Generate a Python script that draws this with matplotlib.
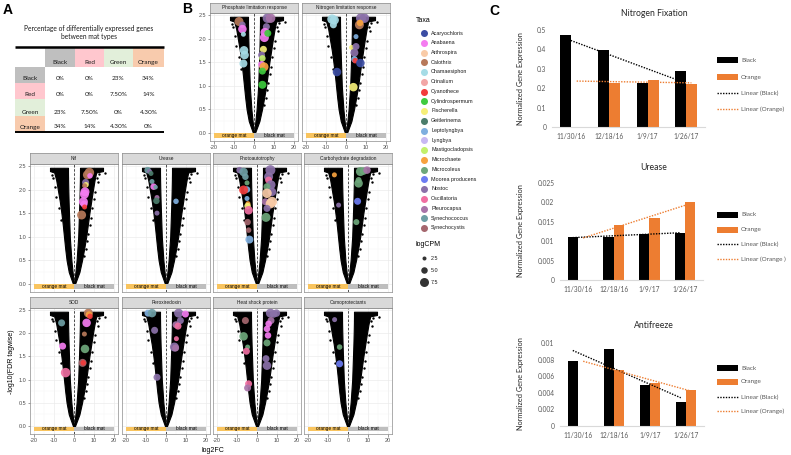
import numpy as np
import matplotlib
matplotlib.use("Agg")
import matplotlib.pyplot as plt
from matplotlib.patches import Rectangle

# ---------------- data ----------------
TAXA = ["Acaryochloris", "Anabaena", "Arthrospira", "Calothrix", "Chamaesiphon",
        "Crinalium", "Cyanothece", "Cylindrospermum", "Fischerella", "Geitlerinema",
        "Leptolyngbya", "Lyngbya", "Mastigocladopsis", "Microchaete", "Microcoleus",
        "Moorea producens", "Nostoc", "Oscillatoria", "Pleurocapsa", "Synechococcus",
        "Synechocystis"]
TAXA_COLORS = ["#3B4DA3", "#F47CF0", "#F9CBA7", "#B8795A", "#A6DCE6",
               "#F2A6A6", "#F23B3B", "#3FCB3F", "#F6EF78", "#4B7D6B",
               "#7FAFDF", "#C8B8F2", "#C3F06C", "#F7A23F", "#6DA77B",
               "#6C7CF2", "#8B71A9", "#F06FA2", "#A874A9", "#6E9FA5",
               "#A5676E"]
SIZE_BREAKS = [2.5, 5.0, 7.5]

MAT_TYPES = ["Black", "Red", "Green", "Orange"]
MAT_COLORS = ["#BFBFBF", "#FFC7CE", "#E2EFDA", "#F8CBAD"]
PCT_BLACK = ["0%", "0%", "23%", "34%"]
PCT_RED = ["0%", "0%", "7.50%", "14%"]
PCT_GREEN = ["23%", "7.50%", "0%", "4.30%"]
PCT_ORANGE = ["34%", "14%", "4.30%", "0%"]

DATES = ["11/30/16", "12/18/16", "1/9/17", "1/26/17"]
NIF_BLACK = [0.475, 0.397, 0.225, 0.289]
NIF_ORANGE = [np.nan, 0.228, 0.242, 0.222]
URE_BLACK = [0.0110, 0.0112, 0.0118, 0.0122]
URE_ORANGE = [np.nan, 0.0142, 0.0159, 0.0201]
ANT_BLACK = [0.0078, 0.0093, 0.0050, 0.0029]
ANT_ORANGE = [np.nan, 0.0067, 0.0052, 0.0043]

# volcano envelope of the black (all genes) point cloud
ENV_Y = [0.0, 0.25, 0.5, 0.75, 1.0, 1.25, 1.5, 1.75, 2.0, 2.2, 2.36, 2.39, 2.46]
LEFT_OUTER = [-0.5, -2.6, -3.7, -4.4, -5.0, -5.6, -6.3, -7.1, -8.1, -8.9, -9.9, -12.0, -12.0]
LEFT_INNER = [0.0, -0.7, -1.3, -1.7, -2.1, -2.3, -2.5, -2.7, -2.85, -2.95, -3.0, -3.0, -3.0]
RIGHT_INNER = [0.0, 0.7, 1.3, 1.7, 2.1, 2.3, 2.5, 2.7, 2.85, 2.95, 3.0, 3.0, 3.0]
RIGHT_OUTER = [0.5, 2.7, 4.0, 5.1, 6.1, 6.9, 7.7, 8.6, 9.5, 10.3, 11.1, 14.5, 14.5]
OUTLIER_FC = [11.5, 12.0, 10.5, 9.8, 9.2, 8.5, 7.8, 7.2, 6.5, 6.0, 5.2,
              -10.5, -9.5, -8.8, -7.5, -6.5, 15.5, 12.5, -11.0]
OUTLIER_FDR = [2.25, 2.15, 1.95, 1.80, 1.60, 1.40, 1.25, 1.05, 0.90, 0.75, 0.60,
               2.25, 2.05, 1.85, 1.60, 1.35, 2.35, 2.32, 2.30]

PHOS_PTS = [("Calothrix", -7.5, 2.36, 7.5), ("Nostoc", -5.8, 2.29, 5.0),
            ("Anabaena", -5.8, 2.20, 7.0), ("Chamaesiphon", -5.3, 2.09, 3.5),
            ("Chamaesiphon", -5.0, 1.75, 7.0), ("Chamaesiphon", -4.7, 1.65, 7.0),
            ("Chamaesiphon", -5.3, 1.47, 6.5), ("Nostoc", 6.7, 2.43, 8.0),
            ("Pleurocapsa", 8.3, 2.43, 8.0), ("Nostoc", 6.2, 2.25, 5.5),
            ("Anabaena", 5.5, 2.13, 7.5), ("Anabaena", 5.2, 2.02, 7.5),
            ("Cylindrospermum", 6.9, 2.11, 5.5), ("Fischerella", 4.7, 1.77, 5.5),
            ("Nostoc", 3.8, 1.65, 5.5), ("Mastigocladopsis", 4.2, 1.58, 5.0),
            ("Anabaena", 3.8, 1.45, 5.5), ("Microchaete", 5.0, 1.40, 7.5),
            ("Cylindrospermum", 4.2, 1.31, 5.5), ("Cylindrospermum", 4.2, 1.02, 6.5)]
NITRO_PTS = [("Chamaesiphon", -7.0, 2.41, 8.0), ("Chamaesiphon", -5.8, 2.39, 7.5),
             ("Chamaesiphon", -6.3, 2.29, 5.5), ("Acaryochloris", -4.5, 1.29, 7.0),
             ("Nostoc", 7.5, 2.43, 8.5), ("Nostoc", 9.2, 2.43, 8.0),
             ("Calothrix", 6.7, 2.29, 7.5), ("Microchaete", 7.0, 2.33, 5.0),
             ("Leptolyngbya", 5.0, 2.04, 3.5), ("Fischerella", 2.8, 1.81, 3.5),
             ("Nostoc", 5.0, 1.83, 5.5), ("Nostoc", 4.2, 1.70, 6.5),
             ("Leptolyngbya", 4.2, 1.56, 5.0), ("Cyanothece", 4.6, 1.53, 4.0),
             ("Acaryochloris", 7.2, 1.48, 7.0), ("Fischerella", 3.7, 0.97, 7.0)]
NIF_PTS = [("Calothrix", 7.7, 2.36, 8.0), ("Calothrix", 6.7, 2.31, 7.5),
           ("Anabaena", 8.0, 2.29, 4.0), ("Nostoc", 5.8, 2.15, 5.5),
           ("Fischerella", 6.0, 2.10, 4.0), ("Calothrix", 5.3, 2.08, 3.5),
           ("Anabaena", 5.5, 1.95, 7.5), ("Anabaena", 5.2, 1.90, 7.5),
           ("Anabaena", 4.7, 1.74, 7.5), ("Anabaena", 5.0, 1.69, 5.5),
           ("Cyanothece", 5.3, 1.63, 3.5), ("Calothrix", 3.8, 1.46, 7.5)]
URE_PTS = [("Synechococcus", -9.2, 2.41, 5.0), ("Nostoc", -8.2, 2.38, 3.5),
           ("Geitlerinema", -7.5, 2.34, 3.5), ("Synechococcus", -7.0, 2.17, 3.5),
           ("Anabaena", -6.2, 2.06, 5.0), ("Synechococcus", -5.2, 2.05, 3.0),
           ("Pleurocapsa", -4.5, 1.83, 3.5), ("Geitlerinema", -4.8, 1.76, 5.0),
           ("Nostoc", -4.5, 1.50, 3.5), ("Leptolyngbya", 5.0, 1.75, 4.0)]
PHOTO_PTS = [("Nostoc", -8.7, 2.41, 5.0), ("Synechococcus", -6.7, 2.37, 7.0),
             ("Synechococcus", -5.8, 2.27, 5.0), ("Microcoleus", -5.0, 2.14, 3.5),
             ("Leptolyngbya", -5.0, 2.00, 5.0), ("Cyanothece", -6.7, 1.99, 7.5),
             ("Leptolyngbya", -5.0, 1.81, 3.5), ("Microchaete", -4.5, 1.70, 3.5),
             ("Fischerella", -4.7, 1.65, 5.0), ("Oscillatoria", -4.2, 1.56, 7.0),
             ("Synechocystis", -4.7, 1.31, 5.0), ("Synechocystis", -4.2, 1.14, 4.0),
             ("Leptolyngbya", -3.8, 0.94, 6.5), ("Nostoc", 6.7, 2.41, 8.5),
             ("Nostoc", 5.8, 2.27, 7.5), ("Oscillatoria", 5.8, 2.20, 5.5),
             ("Nostoc", 7.0, 2.10, 7.5), ("Microcoleus", 5.0, 2.06, 5.5),
             ("Nostoc", 7.5, 1.95, 7.0), ("Arthrospira", 5.0, 1.92, 8.0),
             ("Pleurocapsa", 4.2, 1.74, 5.5), ("Arthrospira", 7.5, 1.74, 8.5),
             ("Arthrospira", 6.7, 1.70, 8.0), ("Nostoc", 5.0, 1.60, 5.5),
             ("Microcoleus", 4.5, 1.41, 7.5)]
CARB_PTS = [("Microchaete", -6.8, 2.31, 3.5), ("Nostoc", -4.7, 1.67, 3.5),
            ("Microcoleus", 6.2, 2.38, 7.5), ("Microcoleus", 7.8, 2.39, 6.0),
            ("Pleurocapsa", 9.5, 2.41, 6.0), ("Microcoleus", 5.3, 2.20, 4.5),
            ("Microcoleus", 5.3, 2.13, 7.0), ("Moorea producens", 4.8, 1.75, 5.5),
            ("Microcoleus", 4.2, 1.31, 4.5)]
SOD_PTS = [("Synechococcus", -6.2, 2.22, 5.5), ("Anabaena", -5.7, 1.72, 5.5),
           ("Oscillatoria", -4.2, 1.15, 8.0), ("Calothrix", 7.2, 2.43, 7.5),
           ("Microchaete", 7.5, 2.40, 5.0), ("Cyanothece", 8.0, 2.36, 4.0),
           ("Anabaena", 6.3, 2.22, 7.0), ("Calothrix", 5.2, 1.98, 3.5),
           ("Microcoleus", 5.5, 1.66, 7.0), ("Synechocystis", 4.3, 1.36, 6.5),
           ("Cyanothece", 4.6, 1.36, 4.0)]
PEROX_PTS = [("Leptolyngbya", -9.0, 2.43, 5.5), ("Synechococcus", -7.0, 2.43, 7.0),
             ("Nostoc", -5.7, 2.06, 5.5), ("Nostoc", -4.5, 1.05, 5.5),
             ("Nostoc", 6.3, 2.43, 7.5), ("Anabaena", 9.7, 2.41, 5.5),
             ("Nostoc", 7.2, 2.27, 5.5), ("Pleurocapsa", 5.0, 2.18, 5.5),
             ("Oscillatoria", 6.0, 2.15, 5.5), ("Oscillatoria", 5.2, 1.88, 3.5),
             ("Nostoc", 4.2, 1.70, 7.5), ("Pleurocapsa", 4.8, 1.68, 5.5)]
HEAT_PTS = [("Synechocystis", -5.8, 2.27, 5.5), ("Microcoleus", -6.7, 1.93, 7.0),
            ("Microcoleus", -4.7, 1.70, 3.5), ("Oscillatoria", -5.3, 1.61, 5.5),
            ("Oscillatoria", -4.2, 0.91, 5.5), ("Pleurocapsa", -4.7, 0.82, 5.5),
            ("Nostoc", 6.7, 2.43, 7.5), ("Nostoc", 8.3, 2.41, 6.0),
            ("Nostoc", 9.7, 2.43, 6.0), ("Pleurocapsa", 7.0, 2.27, 5.5),
            ("Anabaena", 5.8, 2.20, 5.0), ("Anabaena", 5.0, 2.09, 5.0),
            ("Anabaena", 5.5, 1.95, 5.0), ("Microcoleus", 5.0, 1.79, 5.5),
            ("Nostoc", 4.5, 1.45, 5.5), ("Nostoc", 5.0, 1.30, 7.0)]
OSMO_PTS = [("Nostoc", -6.7, 2.29, 3.5), ("Microcoleus", -4.2, 1.70, 4.0),
            ("Moorea producens", -4.2, 1.34, 5.5)]

# ---------------- figure ----------------
W, H = 791, 455
fig = plt.figure(figsize=(W / 100, H / 100), dpi=100)
GG = "Liberation Sans"
XL = "Lato"
EXCEL_ORANGE = "#ED7D31"
EXCEL_TXT = "#595959"


def px_axes(x0, y0, x1, y1):
    return fig.add_axes([x0 / W, 1 - y1 / H, (x1 - x0) / W, (y1 - y0) / H])


def diam(cpm):
    return 1.5 + cpm


taxa_color = dict(zip(TAXA, TAXA_COLORS))


def volcano(x0, y0, x1, y1, sy0, title, pts, show_x, show_y):
    ax = px_axes(x0, y0, x1, y1)
    ax.set_xlim(-22, 22)
    ax.set_ylim(-0.17, 2.54)
    ax.set_xticks([-20, -10, 0, 10, 20])
    ax.set_xticks([-15, -5, 5, 15], minor=True)
    ax.set_yticks([0, 0.5, 1.0, 1.5, 2.0, 2.5])
    ax.set_yticks([0.25, 0.75, 1.25, 1.75, 2.25], minor=True)
    ax.grid(True, which="major", color="#EBEBEB", lw=0.5)
    ax.grid(True, which="minor", color="#F4F4F4", lw=0.35)
    ax.set_axisbelow(True)
    for s in ax.spines.values():
        s.set_color("#8C8C8C")
        s.set_linewidth(0.5)
    ax.tick_params(which="minor", length=0)
    ax.tick_params(which="major", length=1.8, width=0.4, color="#4D4D4D",
                   labelsize=4, labelcolor="#4D4D4D", pad=1)
    if show_x:
        ax.set_xticklabels(["-20", "-10", "0", "10", "20"], fontfamily=GG)
    else:
        ax.tick_params(axis="x", length=0, labelbottom=False)
    if show_y:
        ax.set_yticklabels(["0.0", "0.5", "1.0", "1.5", "2.0", "2.5"], fontfamily=GG)
    else:
        ax.tick_params(axis="y", length=0, labelleft=False)
    ax.axvline(0, color="#333333", lw=0.6, ls=(0, (3, 2)), zorder=1)
    ax.fill_betweenx(ENV_Y, LEFT_OUTER, LEFT_INNER, color="black", lw=0.8,
                     edgecolor="black", zorder=2)
    ax.fill_betweenx(ENV_Y, RIGHT_INNER, RIGHT_OUTER, color="black", lw=0.8,
                     edgecolor="black", zorder=2)
    ax.scatter(OUTLIER_FC, OUTLIER_FDR, s=3, color="black", lw=0, zorder=2)
    ax.add_patch(Rectangle((-20, -0.11), 20, 0.1, color="#F9C45E", lw=0, zorder=3))
    ax.add_patch(Rectangle((0, -0.11), 20, 0.1, color="#BEBEBE", lw=0, zorder=3))
    ax.text(-10, -0.06, "orange mat", ha="center", va="center", fontsize=3.4,
            fontfamily=GG, zorder=4)
    ax.text(10, -0.06, "black mat", ha="center", va="center", fontsize=3.4,
            fontfamily=GG, zorder=4)
    tx = [p[1] for p in pts]
    ty = [p[2] for p in pts]
    tc = [taxa_color[p[0]] for p in pts]
    ts = [(diam(p[3]) * 0.72) ** 2 for p in pts]
    ax.scatter(tx, ty, s=ts, c=tc, lw=0, alpha=0.92, zorder=5)
    sax = px_axes(x0, sy0, x1, y0)
    sax.set_facecolor("#D9D9D9")
    sax.set_xticks([])
    sax.set_yticks([])
    for s in sax.spines.values():
        s.set_color("#8C8C8C")
        s.set_linewidth(0.5)
    sax.text(0.5, 0.5, title, ha="center", va="center", fontsize=3.4,
             fontfamily=GG, color="#1A1A1A", transform=sax.transAxes)
    return ax


# panel B top row
volcano(210, 13, 298, 141, 3, "Phosphate limitation response", PHOS_PTS, True, True)
volcano(302, 13, 390, 141, 3, "Nitrogen limitation response", NITRO_PTS, True, False)

# panel B grid
COLS = [30, 122, 213, 304]
row1 = [("Nif", NIF_PTS), ("Urease", URE_PTS), ("Photoautotrophy", PHOTO_PTS),
        ("Carbohydrate degradation", CARB_PTS)]
row2 = [("SOD", SOD_PTS), ("Peroxiredoxin", PEROX_PTS), ("Heat shock protein", HEAT_PTS),
        ("Osmoprotectants", OSMO_PTS)]
for i, (t, p) in enumerate(row1):
    volcano(COLS[i], 164, COLS[i] + 88, 292, 153, t, p, False, i == 0)
for i, (t, p) in enumerate(row2):
    volcano(COLS[i], 308, COLS[i] + 88, 434, 297, t, p, True, i == 0)


# panel C
def excel_chart(x0, y0, x1, y1, black, orange, ymax, step):
    ax = px_axes(x0, y0, x1, y1)
    idx = np.arange(len(DATES))
    w = 0.29
    b = np.array(black, dtype=float)
    o = np.array(orange, dtype=float)
    ax.bar(idx - w / 2, b, w, color="black", zorder=2)
    ax.bar(idx + w / 2, o, w, color=EXCEL_ORANGE, zorder=2)
    pb = np.polyfit(idx, b, 1)
    ax.plot(idx - w / 2, np.polyval(pb, idx), ls=(0, (1, 1)), color="black", lw=1.0, zorder=3)
    m = ~np.isnan(o)
    po = np.polyfit(idx[m], o[m], 1)
    ax.plot(idx + w / 2, np.polyval(po, idx), ls=(0, (1, 1)), color=EXCEL_ORANGE, lw=1.0, zorder=3)
    ax.set_xlim(-0.5, len(DATES) - 0.5)
    ax.set_ylim(0, ymax)
    ticks = np.arange(0, ymax + step / 2, step)
    ax.set_yticks(ticks)
    ax.set_yticklabels(["{:g}".format(round(t, 6)) for t in ticks], fontfamily=XL)
    ax.set_xticks(idx)
    ax.set_xticklabels(DATES, fontfamily=XL)
    for k in ["top", "right", "left"]:
        ax.spines[k].set_visible(False)
    ax.spines["bottom"].set_color("#D9D9D9")
    ax.spines["bottom"].set_linewidth(0.8)
    ax.tick_params(length=0, labelsize=4.8, labelcolor=EXCEL_TXT, pad=4)
    ax.set_facecolor("none")
    return ax


excel_chart(552, 30, 705, 127, NIF_BLACK, NIF_ORANGE, 0.5, 0.1)
excel_chart(560, 183, 703, 280, URE_BLACK, URE_ORANGE, 0.025, 0.005)
excel_chart(560, 343, 704, 426, ANT_BLACK, ANT_ORANGE, 0.01, 0.002)

# ---------------- overlay: labels, table, legends ----------------
ov = fig.add_axes([0, 0, 1, 1])
ov.set_xlim(0, W)
ov.set_ylim(H, 0)
ov.axis("off")
ov.patch.set_alpha(0)

for lab, (x, y) in zip(["A", "B", "C"], [(3, 10), (182, 9), (489, 11)]):
    ov.text(x, y, lab, fontsize=10, fontweight="bold", fontfamily=GG, va="center")

# table (panel A)
ov.text(89, 28, "Percentage of differentially expressed genes", ha="center", va="center",
        fontsize=4.8, fontfamily=XL, color="#1A1A1A")
ov.text(89, 36, "between mat types", ha="center", va="center",
        fontsize=4.8, fontfamily=XL, color="#1A1A1A")
col_x = [45, 75, 104, 133, 164]
row_y = [67, 83, 99, 116, 131]
for j, (name, colr) in enumerate(zip(MAT_TYPES, MAT_COLORS)):
    ov.add_patch(Rectangle((col_x[j], 48), col_x[j + 1] - col_x[j], 19, color=colr, lw=0))
    ov.text((col_x[j] + col_x[j + 1]) / 2, 62.5, name, ha="center", va="center",
            fontsize=4.6, fontfamily=XL, color="#1A1A1A")
    ov.add_patch(Rectangle((15, row_y[j]), 30, row_y[j + 1] - row_y[j], color=colr, lw=0))
    ov.text(30, row_y[j + 1] - 4, name, ha="center", va="center",
            fontsize=4.6, fontfamily=XL, color="#1A1A1A")
for i, rowvals in enumerate([PCT_BLACK, PCT_RED, PCT_GREEN, PCT_ORANGE]):
    for j, v in enumerate(rowvals):
        ov.text((col_x[j] + col_x[j + 1]) / 2, row_y[i + 1] - 4, v, ha="center",
                va="center", fontsize=4.6, fontfamily=XL, color="#1A1A1A")
ov.plot([15, 164], [47, 47], color="black", lw=1.8, solid_capstyle="butt")
ov.plot([15, 164], [131.5, 131.5], color="black", lw=1.4, solid_capstyle="butt")

# volcano axis labels
ov.text(213, 450, "log2FC", ha="center", va="center", fontsize=5, fontfamily=GG)
ov.text(12, 362, "-log10(FDR tagwise)", ha="center", va="center", fontsize=5,
        fontfamily=GG, rotation=90)

# taxa legend
ov.text(416, 21, "Taxa", ha="left", va="center", fontsize=5, fontfamily=GG)
for k, (name, colr) in enumerate(zip(TAXA, TAXA_COLORS)):
    yy = 33 + k * 9.75
    ov.scatter([424], [yy], s=(7 * 0.72) ** 2, color=colr, lw=0)
    ov.text(431, yy, name, ha="left", va="center", fontsize=3.9, fontfamily=GG,
            color="#1A1A1A")
ov.text(416, 244, "logCPM", ha="left", va="center", fontsize=5, fontfamily=GG)
for k, sb in enumerate(SIZE_BREAKS):
    yy = 258 + k * 12
    ov.scatter([424], [yy], s=(diam(sb) * 0.72) ** 2, color="#333333", lw=0)
    ov.text(431, yy, "{:.1f}".format(sb), ha="left", va="center", fontsize=3.9,
            fontfamily=GG, color="#1A1A1A")

# excel chart titles, y labels, legends
for title, ty, yc, leg_ys, olab in [
        ("Nitrogen Fixation", 14, 78.5, [60, 77, 93, 109], "Linear (Orange)"),
        ("Urease", 167, 231, [215, 230, 244, 259], "Linear (Orange )"),
        ("Antifreeze", 325, 384, [368, 382, 397, 411], "Linear (Orange)")]:
    ov.text(654, ty, title, ha="center", va="center", fontsize=6.2, fontfamily=XL,
            color="#262626")
    ov.text(520, yc, "Normalized Gene Expression", ha="center", va="center",
            fontsize=5.3, fontfamily=XL, color="#262626", rotation=90)
    ov.add_patch(Rectangle((717, leg_ys[0] - 3), 21, 6, color="black", lw=0))
    ov.add_patch(Rectangle((717, leg_ys[1] - 3), 21, 6, color=EXCEL_ORANGE, lw=0))
    ov.plot([717, 738], [leg_ys[2]] * 2, ls=(0, (1, 1)), color="black", lw=1.0)
    ov.plot([717, 738], [leg_ys[3]] * 2, ls=(0, (1, 1)), color=EXCEL_ORANGE, lw=1.0)
    for yy, lab in zip(leg_ys, ["Black", "Orange", "Linear (Black)", olab]):
        ov.text(741, yy, lab, ha="left", va="center", fontsize=4.6, fontfamily=XL,
                color=EXCEL_TXT)

fig.savefig("out.png", dpi=100)
